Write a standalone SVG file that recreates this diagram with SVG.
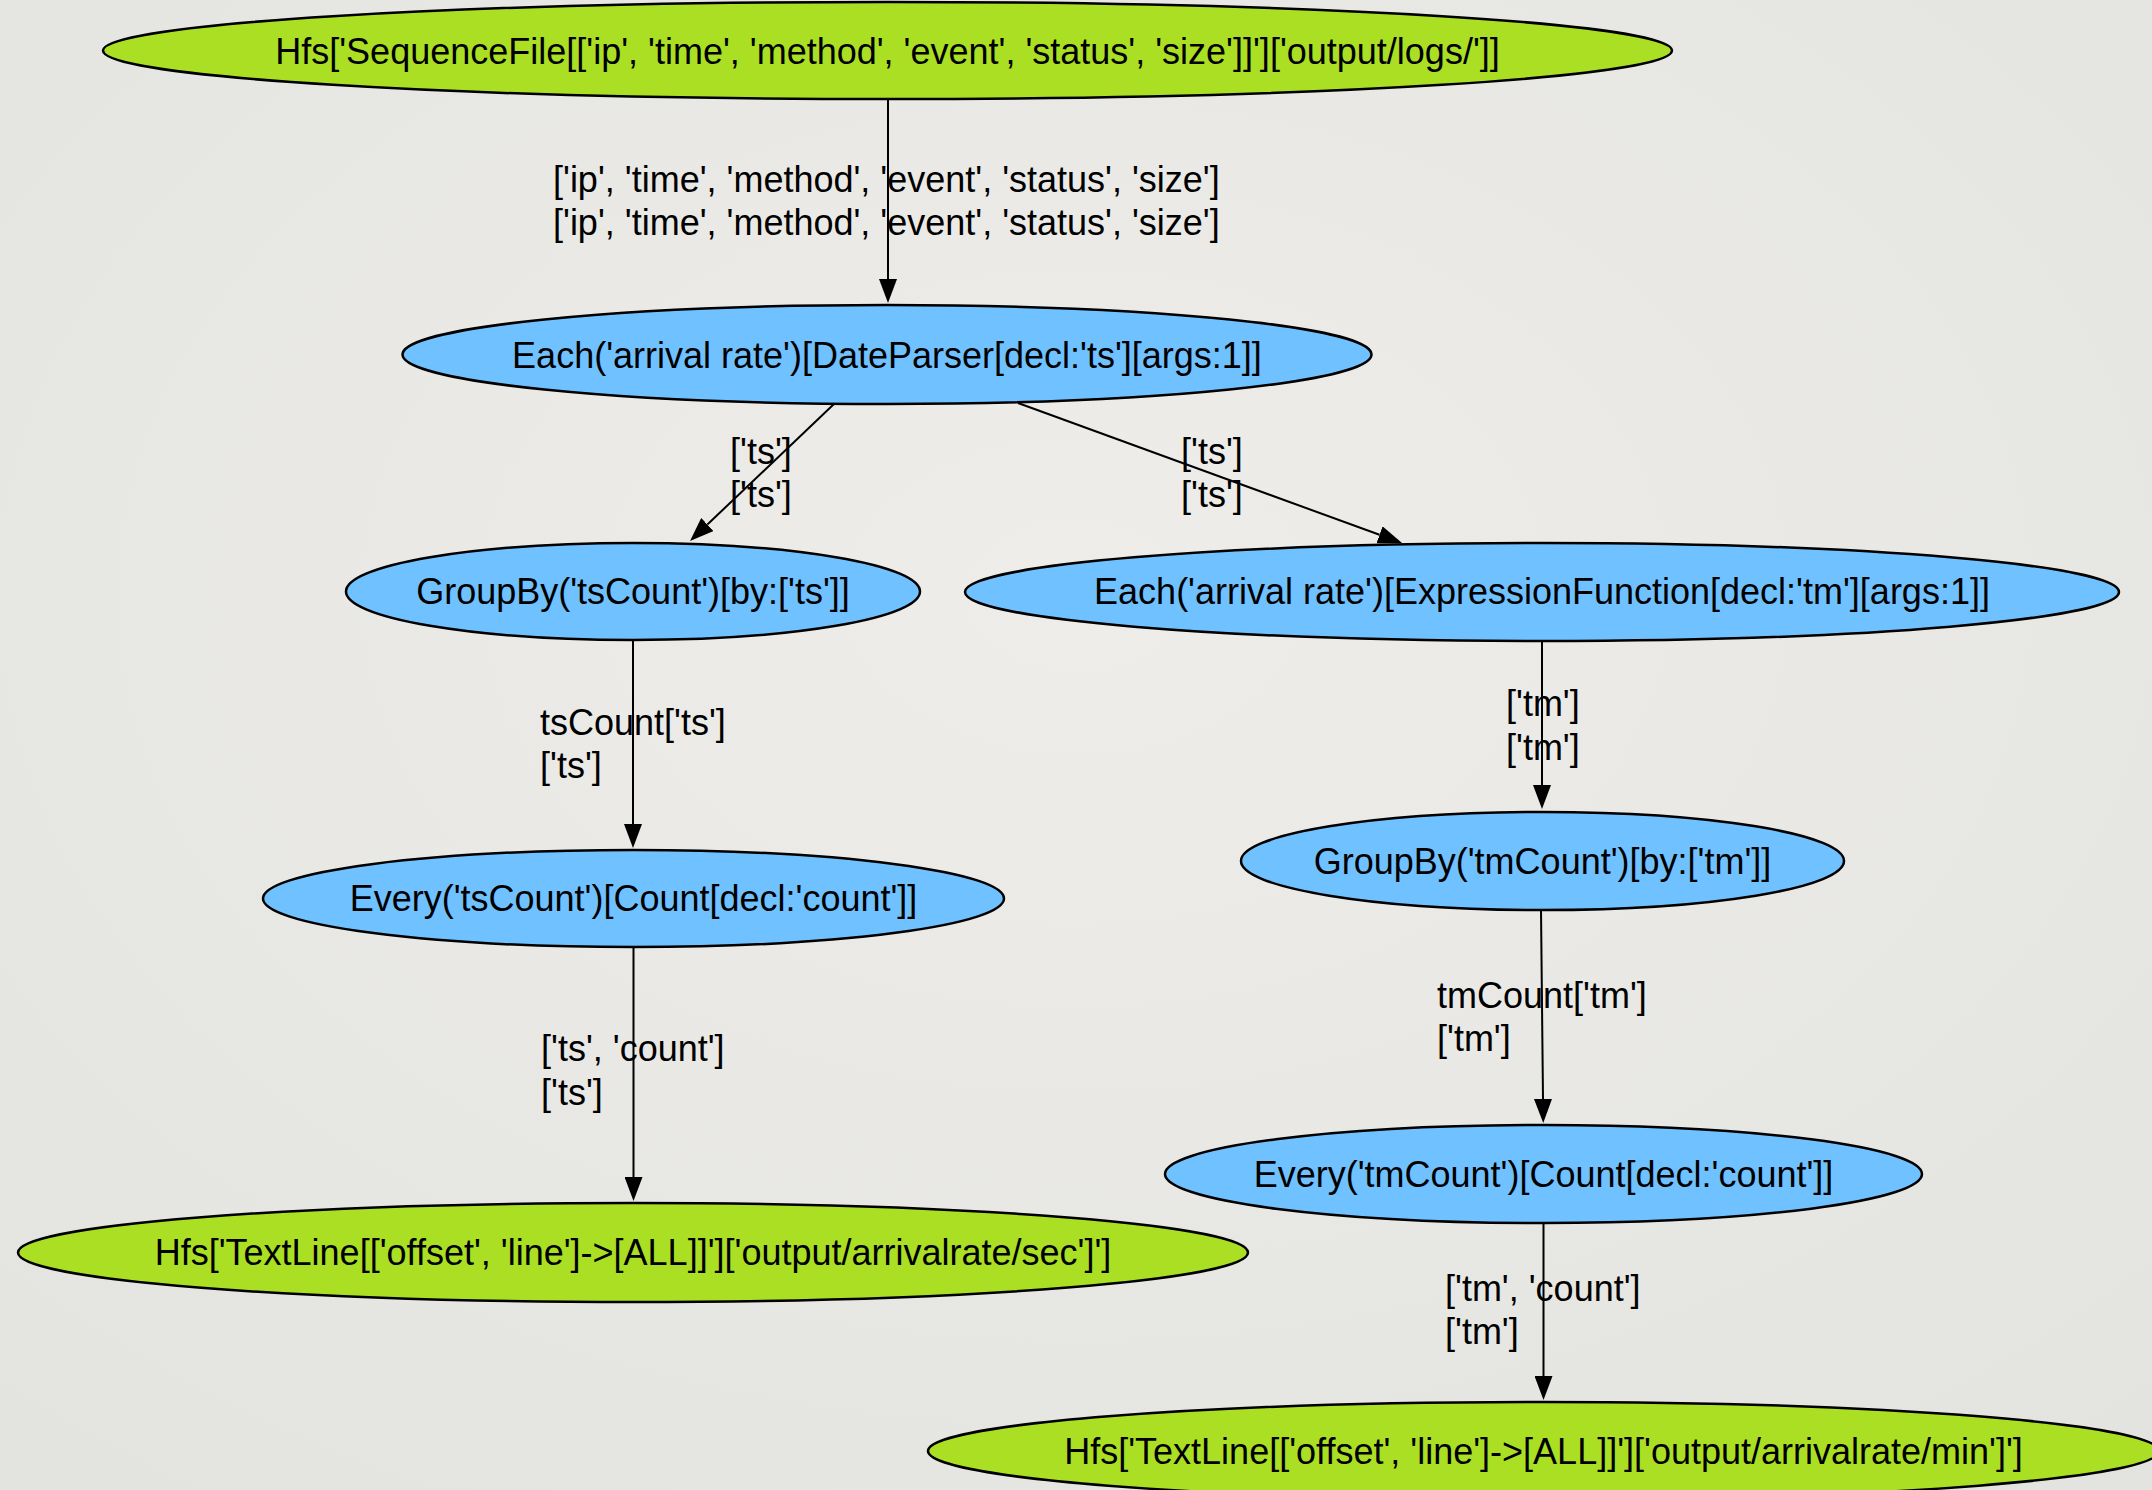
<svg xmlns="http://www.w3.org/2000/svg" width="2152" height="1490" viewBox="0 0 2152 1490">
  <defs>
    <radialGradient id="paper" cx="50%" cy="40%" r="75%">
      <stop offset="0" stop-color="#eeedea"/>
      <stop offset="1" stop-color="#e3e3df"/>
    </radialGradient>
    <marker id="arrow" markerUnits="userSpaceOnUse" viewBox="0 0 24 18" refX="0" refY="9" markerWidth="24" markerHeight="18" orient="auto">
      <path d="M0,0 L24,9 L0,18 z" fill="#000"/>
    </marker>
  </defs>
  <style>
    .node ellipse { stroke: #000; stroke-width: 2.5; }
    .hfs ellipse { fill: #aadf24; }
    .op ellipse { fill: #70c1ff; }
    text { font-family: "Liberation Sans", Arial, Helvetica, sans-serif; font-size: 36px; fill: #000; }
    .node text { text-anchor: middle; }
    .edge line { stroke: #000; stroke-width: 2; fill: none; marker-end: url(#arrow); }
  </style>

  <rect width="2152" height="1490" fill="url(#paper)"/>

  <!-- connectors -->
  <g id="edges">
    <g class="edge" id="e-source-dateparser">
      <line x1="888" y1="99" x2="888" y2="279"/>
      <text x="553" y="192">['ip', 'time', 'method', 'event', 'status', 'size']</text>
      <text x="553" y="235">['ip', 'time', 'method', 'event', 'status', 'size']</text>
    </g>
    <g class="edge" id="e-dateparser-tsgroup">
      <line x1="834" y1="404" x2="707.4" y2="524.5"/>
      <text x="730" y="464">['ts']</text>
      <text x="730" y="507">['ts']</text>
    </g>
    <g class="edge" id="e-dateparser-expr">
      <line x1="1018" y1="403" x2="1379.5" y2="534.8"/>
      <text x="1181" y="464">['ts']</text>
      <text x="1181" y="507">['ts']</text>
    </g>
    <g class="edge" id="e-tsgroup-tsevery">
      <line x1="633" y1="640" x2="633" y2="824"/>
      <text x="540" y="735">tsCount['ts']</text>
      <text x="540" y="778">['ts']</text>
    </g>
    <g class="edge" id="e-tsevery-sec">
      <line x1="633.5" y1="947" x2="633.5" y2="1177"/>
      <text x="541" y="1061">['ts', 'count']</text>
      <text x="541" y="1105">['ts']</text>
    </g>
    <g class="edge" id="e-expr-tmgroup">
      <line x1="1542" y1="641" x2="1542" y2="785"/>
      <text x="1506" y="716">['tm']</text>
      <text x="1506" y="760">['tm']</text>
    </g>
    <g class="edge" id="e-tmgroup-tmevery">
      <line x1="1541" y1="910" x2="1543" y2="1099"/>
      <text x="1437" y="1008">tmCount['tm']</text>
      <text x="1437" y="1051">['tm']</text>
    </g>
    <g class="edge" id="e-tmevery-min">
      <line x1="1543.5" y1="1223" x2="1543.5" y2="1376"/>
      <text x="1445" y="1301">['tm', 'count']</text>
      <text x="1445" y="1344">['tm']</text>
    </g>
  </g>

  <!-- nodes -->
  <g class="node hfs" id="n-source">
    <ellipse cx="887.5" cy="50.5" rx="784.5" ry="48.5"/>
    <text x="887.5" y="64">Hfs['SequenceFile[['ip', 'time', 'method', 'event', 'status', 'size']]']['output/logs/']]</text>
  </g>
  <g class="node op" id="n-dateparser">
    <ellipse cx="887" cy="354.5" rx="484.5" ry="49.5"/>
    <text x="887" y="368">Each('arrival rate')[DateParser[decl:'ts'][args:1]]</text>
  </g>
  <g class="node op" id="n-tsgroup">
    <ellipse cx="633" cy="591.5" rx="287" ry="48.5"/>
    <text x="633" y="604">GroupBy('tsCount')[by:['ts']]</text>
  </g>
  <g class="node op" id="n-expr">
    <ellipse cx="1542" cy="592" rx="577" ry="49"/>
    <text x="1542" y="604">Each('arrival rate')[ExpressionFunction[decl:'tm'][args:1]]</text>
  </g>
  <g class="node op" id="n-tsevery">
    <ellipse cx="633.5" cy="898.5" rx="370.5" ry="48.5"/>
    <text x="633.5" y="911">Every('tsCount')[Count[decl:'count']]</text>
  </g>
  <g class="node op" id="n-tmgroup">
    <ellipse cx="1542.5" cy="861" rx="301.5" ry="49"/>
    <text x="1542.5" y="874">GroupBy('tmCount')[by:['tm']]</text>
  </g>
  <g class="node op" id="n-tmevery">
    <ellipse cx="1543.5" cy="1174" rx="378.5" ry="49"/>
    <text x="1543.5" y="1187">Every('tmCount')[Count[decl:'count']]</text>
  </g>
  <g class="node hfs" id="n-sec">
    <ellipse cx="633" cy="1252.5" rx="615" ry="49.5"/>
    <text x="633" y="1265">Hfs['TextLine[['offset', 'line']-&gt;[ALL]]']['output/arrivalrate/sec']']</text>
  </g>
  <g class="node hfs" id="n-min">
    <ellipse cx="1543.5" cy="1451" rx="615.5" ry="49"/>
    <text x="1543.5" y="1464">Hfs['TextLine[['offset', 'line']-&gt;[ALL]]']['output/arrivalrate/min']']</text>
  </g>
</svg>
